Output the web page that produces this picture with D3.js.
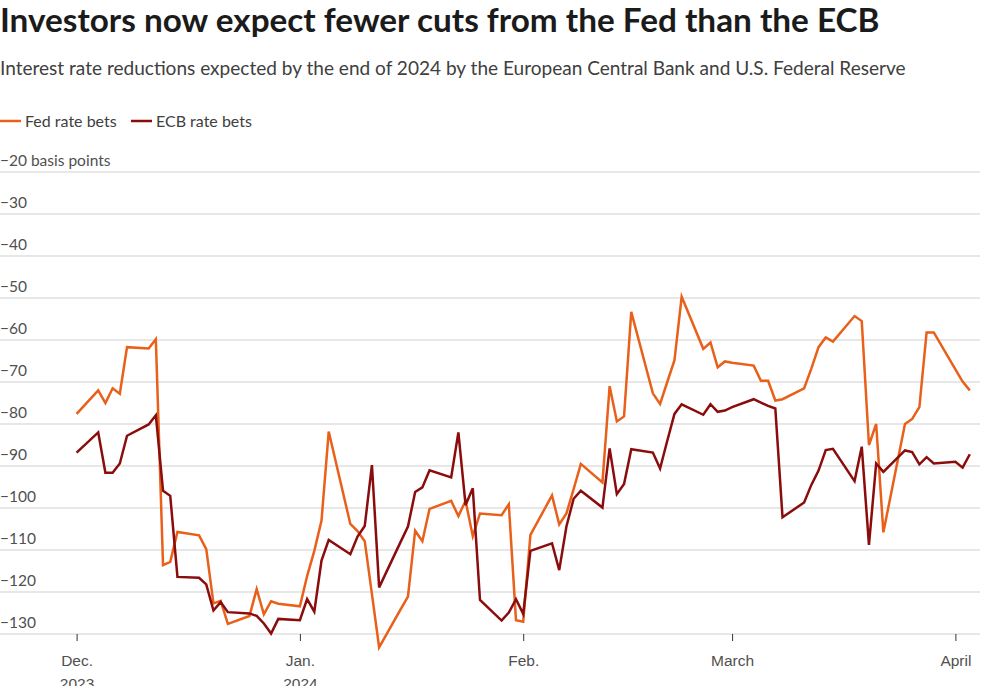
<!DOCTYPE html>
<html>
<head>
<meta charset="utf-8">
<script src="https://cdn.jsdelivr.net/npm/d3@7"></script>
<style>
  body { margin: 0; background: #fff; }
  svg { display: block; font-family: "Source Sans Pro", Lato, "Noto Sans", sans-serif; }
</style>
</head>
<body>
<script>
// weekdays, Dec 1 2023 - Apr 3 2024
var dates = [
  "2023-12-01","2023-12-04","2023-12-05","2023-12-06","2023-12-07","2023-12-08",
  "2023-12-11","2023-12-12","2023-12-13","2023-12-14","2023-12-15",
  "2023-12-18","2023-12-19","2023-12-20","2023-12-21","2023-12-22",
  "2023-12-25","2023-12-26","2023-12-27","2023-12-28","2023-12-29",
  "2024-01-01","2024-01-02","2024-01-03","2024-01-04","2024-01-05",
  "2024-01-08","2024-01-09","2024-01-10","2024-01-11","2024-01-12",
  "2024-01-15","2024-01-16","2024-01-17","2024-01-18","2024-01-19",
  "2024-01-22","2024-01-23","2024-01-24","2024-01-25","2024-01-26",
  "2024-01-29","2024-01-30","2024-01-31","2024-02-01","2024-02-02",
  "2024-02-05","2024-02-06","2024-02-07","2024-02-08","2024-02-09",
  "2024-02-12","2024-02-13","2024-02-14","2024-02-15","2024-02-16",
  "2024-02-19","2024-02-20","2024-02-21","2024-02-22","2024-02-23",
  "2024-02-26","2024-02-27","2024-02-28","2024-02-29","2024-03-01",
  "2024-03-04","2024-03-05","2024-03-06","2024-03-07","2024-03-08",
  "2024-03-11","2024-03-12","2024-03-13","2024-03-14","2024-03-15",
  "2024-03-18","2024-03-19","2024-03-20","2024-03-21","2024-03-22",
  "2024-03-25","2024-03-26","2024-03-27","2024-03-28","2024-03-29",
  "2024-04-01","2024-04-02","2024-04-03"
];

var fedBets = [
  -77.6, -72, -75, -71.5, -72.8, -61.7,
  -62, -59.8, -113.6, -112.8, -105.7,
  -106.5, -109.8, -122.7, -122.1, -127.6,
  -125.7, -119.3, -125.3, -122.2, -122.8,
  -123.4, -116.2, -110.2, -103, -81.8,
  -103.8, -105.5, -107.9, -120.5, -133.2,
  -124.1, -121.1, -105.4, -107.9, -100.2,
  -98.3, -101.9, -98.3, -106.7, -101.3,
  -101.7, -99.1, -126.7, -127.1, -106.4,
  -97, -103.9, -101.3, -95.5, -89.5,
  -93.9, -71, -79.4, -78.2, -53.3,
  -72.7, -75.2, -70, -64.8, -49.7,
  -62.1, -60.6, -66.5, -65.1, -65.4,
  -66.1, -69.7, -69.7, -74.4, -74.1,
  -71.5, -66.8, -61.7, -59.4, -60.4,
  -54.3, -55.5, -85, -80, -105.8,
  -80, -78.8, -76, -58.2, -58.2,
  -67, -69.9, -72
];

var ecbBets = [
  -86.8, -82, -91.6, -91.6, -89.4, -82.8,
  -80.1, -77.9, -95.9, -97.1, -116.4,
  -116.6, -118.2, -124.4, -122.4, -124.8,
  -125.1, -125.7, -127.5, -129.9, -126.4,
  -126.7, -121.7, -124.7, -112.5, -107.6,
  -111, -106.8, -104.3, -89.8, -118.9,
  -108, -104.4, -96.2, -95.1, -91,
  -92.7, -82, -99.3, -95.3, -121.9,
  -126.8, -124.9, -121.7, -125.2, -110.2,
  -108.4, -114.8, -104.4, -97.8, -95.9,
  -99.9, -85.8, -96.7, -94.3, -86,
  -86.8, -90.6, -84, -77.6, -75.3,
  -77.8, -75.3, -77.1, -76.8, -76,
  -74.1, -74.9, -75.7, -76.3, -102.2,
  -98.7, -94.5, -91.1, -86.2, -85.9,
  -93.6, -85.4, -108.8, -89.4, -91.4,
  -86.3, -86.7, -89.6, -87.9, -89.4,
  -89, -90.4, -87.2
];

var yTicks = [-20, -30, -40, -50, -60, -70, -80, -90, -100, -110, -120, -130];
var xTicks = ["2023-12-01", "2024-01-01", "2024-02-01", "2024-03-01", "2024-04-01"];
var xTickLabels = [["Dec.", "2023"], ["Jan.", "2024"], ["Feb.", ""], ["March", ""], ["April", ""]];

var seriesNames = ["Fed rate bets", "ECB rate bets"];
var colors = ["#e8601a", "#8a0c0c"];

var w = 985, h = 686;
var parse = d3.timeParse("%Y-%m-%d");

var svg = d3.select("body").append("svg")
  .attr("width", w)
  .attr("height", h);

var x = d3.scaleTime()
  .domain([parse("2023-12-01"), parse("2024-04-01")])
  .range([76.6, 955.4]);

var y = d3.scaleLinear()
  .domain([-130, -20])
  .range([634, 172]);

// squeeze text into a target width
function fit(sel, target) {
  var len = sel.node().getComputedTextLength();
  var fs = parseFloat(sel.attr("font-size"));
  sel.attr("font-size", fs * target / len);
}

var title = svg.append("text")
  .attr("x", 0).attr("y", 32)
  .attr("font-size", 30)
  .attr("font-weight", 700)
  .attr("fill", "#1b1b1b")
  .text("Investors now expect fewer cuts from the Fed than the ECB");
fit(title, 880);

var sub = svg.append("text")
  .attr("x", 0).attr("y", 75)
  .attr("font-size", 18)
  .attr("fill", "#404040")
  .text("Interest rate reductions expected by the end of 2024 by the European Central Bank and U.S. Federal Reserve");
fit(sub, 906);

// legend
var legX = [0, 131];
var legend = svg.selectAll(".leg")
  .data(seriesNames)
  .enter().append("g")
  .attr("transform", function(d, i) { return "translate(" + legX[i] + ",121)"; });
legend.append("line")
  .attr("x1", 0).attr("x2", 21)
  .attr("stroke", function(d, i) { return colors[i]; })
  .attr("stroke-width", 2.5);
legend.append("text")
  .attr("x", 25).attr("y", 5.5)
  .attr("font-size", 16)
  .attr("fill", "#404040")
  .text(function(d) { return d; });

// y grid + labels
svg.selectAll(".grid")
  .data(yTicks)
  .enter().append("line")
  .attr("x1", 0).attr("x2", 980)
  .attr("y1", function(d) { return y(d); })
  .attr("y2", function(d) { return y(d); })
  .attr("stroke", "#cfcfcf")
  .attr("stroke-width", 1.2);

svg.selectAll(".ylab")
  .data(yTicks)
  .enter().append("text")
  .attr("x", 0)
  .attr("y", function(d) { return y(d) - 6; })
  .attr("font-size", 15.5)
  .attr("fill", "#505050")
  .text(function(d, i) {
    var s = "\u2212" + Math.abs(d);
    return i == 0 ? s + " basis points" : s;
  });

// x axis
var xAxis = svg.append("g")
  .attr("transform", "translate(0," + y(-130) + ")")
  .call(d3.axisBottom(x)
    .tickValues(xTicks.map(parse))
    .tickSize(7)
    .tickFormat(""));
xAxis.select(".domain").remove();
xAxis.selectAll(".tick line").attr("stroke", "#333").attr("stroke-width", 1);

var labs = xAxis.selectAll(".tick").append("text")
  .attr("fill", "#505050")
  .attr("font-size", 15.5)
  .attr("text-anchor", "middle")
  .attr("y", 32);
labs.append("tspan").attr("x", 0)
  .text(function(d, i) { return xTickLabels[i][0]; });
labs.append("tspan").attr("x", 0).attr("dy", 23)
  .text(function(d, i) { return xTickLabels[i][1]; });

// lines
var line = d3.line()
  .x(function(d) { return x(d.date); })
  .y(function(d) { return y(d.v); });

[fedBets, ecbBets].forEach(function(vals, k) {
  var pts = dates.map(function(d, i) { return { date: parse(d), v: vals[i] }; });
  svg.append("path")
    .datum(pts)
    .attr("fill", "none")
    .attr("stroke", colors[k])
    .attr("stroke-width", 2.5)
    .attr("stroke-linejoin", "miter")
    .attr("d", line);
});
</script>
</body>
</html>
